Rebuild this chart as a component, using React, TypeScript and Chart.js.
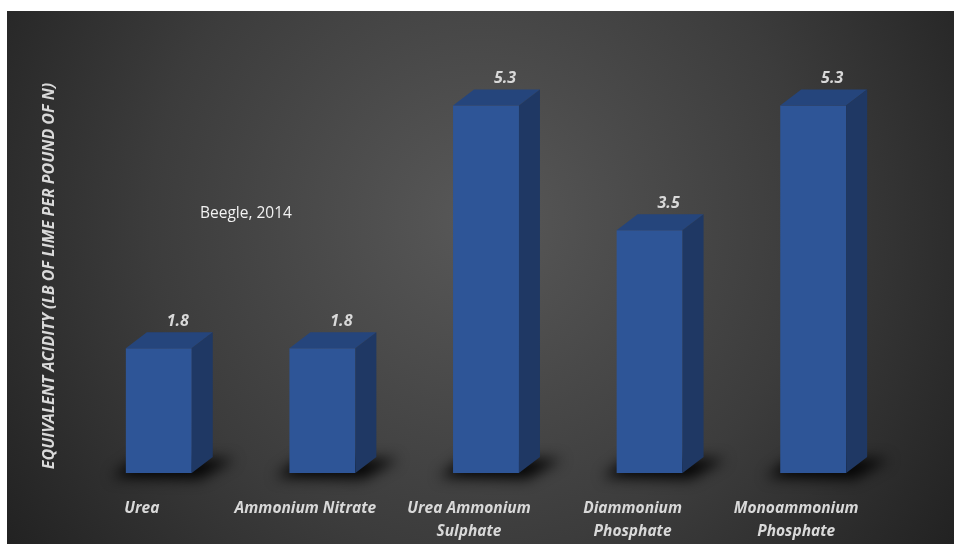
import React, { useEffect, useRef } from "react";
import { Chart, registerables } from "chart.js";

Chart.register(...registerables);

const categories: string[][] = [
  ["Urea"],
  ["Ammonium Nitrate"],
  ["Urea Ammonium", "Sulphate"],
  ["Diammonium", "Phosphate"],
  ["Monoammonium", "Phosphate"],
];
const values: number[] = [1.8, 1.8, 5.3, 3.5, 5.3];
const valueLabels: string[] = ["1.8", "1.8", "5.3", "3.5", "5.3"];
const yAxisTitle = "EQUIVALENT ACIDITY (LB OF LIME PER POUND OF N)";
const sourceNote = "Beegle, 2014";

const FONT = "'Open Sans', 'Liberation Sans', sans-serif";
const DX = 21;
const DY = 16;

const bgPlugin = {
  id: "bg",
  beforeDraw(chart: any) {
    const ctx = chart.ctx;
    const W = chart.width;
    const H = chart.height;
    ctx.save();
    ctx.fillStyle = "#ffffff";
    ctx.fillRect(0, 0, W, H);
    const g = ctx.createRadialGradient(480, 220, 0, 480, 220, 600);
    g.addColorStop(0, "#585858");
    g.addColorStop(0.55, "#3c3c3c");
    g.addColorStop(1, "#1f1f1f");
    ctx.fillStyle = g;
    ctx.fillRect(7, 11, 947, H - 11);
    ctx.restore();
  },
};

const bar3dPlugin = {
  id: "bar3d",
  beforeDatasetsDraw(chart: any) {
    const ctx = chart.ctx;
    const meta = chart.getDatasetMeta(0);
    ctx.save();
    meta.data.forEach((bar: any) => {
      const w = bar.width;
      const left = bar.x - w / 2;
      const right = bar.x + w / 2;
      const base = bar.base;
      ctx.save();
      ctx.shadowColor = "rgba(0,0,0,0.95)";
      ctx.shadowBlur = 14;
      ctx.shadowOffsetX = 0;
      ctx.shadowOffsetY = 2000;
      ctx.fillStyle = "#000";
      ctx.beginPath();
      ctx.moveTo(left - 14, base + 4 - 2000);
      ctx.lineTo(right + 8, base + 6 - 2000);
      ctx.lineTo(right + DX + 22, base - DY + 2 - 2000);
      ctx.lineTo(left + 10, base - DY + 2 - 2000);
      ctx.closePath();
      ctx.fill();
      ctx.restore();
    });
    ctx.restore();
  },
  afterDatasetsDraw(chart: any) {
    const ctx = chart.ctx;
    const meta = chart.getDatasetMeta(0);
    ctx.save();
    meta.data.forEach((bar: any, i: number) => {
      const w = bar.width;
      const left = bar.x - w / 2;
      const right = bar.x + w / 2;
      const top = bar.y;
      const base = bar.base;
      // top face
      ctx.fillStyle = "#25457c";
      ctx.beginPath();
      ctx.moveTo(left, top);
      ctx.lineTo(left + DX, top - DY);
      ctx.lineTo(right + DX, top - DY);
      ctx.lineTo(right, top);
      ctx.closePath();
      ctx.fill();
      // side face
      ctx.fillStyle = "#1f3864";
      ctx.beginPath();
      ctx.moveTo(right, top);
      ctx.lineTo(right + DX, top - DY);
      ctx.lineTo(right + DX, base - DY);
      ctx.lineTo(right, base);
      ctx.closePath();
      ctx.fill();
      // value label
      ctx.fillStyle = "#d9d9d9";
      ctx.font = `italic bold 16px ${FONT}`;
      ctx.textAlign = "center";
      ctx.textBaseline = "middle";
      ctx.fillText(valueLabels[i], bar.x + 19, top - 27);
    });

    // category labels
    const xs = chart.scales.x;
    ctx.fillStyle = "#d9d9d9";
    ctx.font = `italic bold 15.5px ${FONT}`;
    ctx.textAlign = "center";
    ctx.textBaseline = "middle";
    categories.forEach((lines, i) => {
      const x = xs.getPixelForValue(i) - 17;
      lines.forEach((ln, j) => {
        ctx.fillText(ln, x, 509 + j * 23);
      });
    });

    // y axis title
    ctx.save();
    ctx.translate(49, 276);
    ctx.rotate(-Math.PI / 2);
    ctx.font = `italic bold 16px ${FONT}`;
    ctx.fillStyle = "#d9d9d9";
    ctx.fillText(yAxisTitle, 0, 0);
    ctx.restore();

    // source note
    ctx.font = `15.5px ${FONT}`;
    ctx.fillStyle = "#f2f2f2";
    ctx.textAlign = "left";
    ctx.fillText(sourceNote, 200, 214);
    ctx.restore();
  },
};

export default function App() {
  const ref = useRef<HTMLCanvasElement>(null);
  useEffect(() => {
    if (!ref.current) return;
    const chart = new Chart(ref.current, {
      type: "bar",
      data: {
        labels: categories.map((c) => c.join(" ")),
        datasets: [
          {
            data: values,
            backgroundColor: "#2e5597",
            borderWidth: 0,
            barPercentage: 0.403,
            categoryPercentage: 1,
          },
        ],
      },
      options: {
        responsive: false,
        animation: false,
        layout: { padding: { left: 77, right: 60, top: 57, bottom: 71 } },
        plugins: {
          legend: { display: false },
          tooltip: { enabled: false },
          title: { display: false },
        },
        scales: {
          x: { display: false },
          y: { display: false, min: 0, max: 6 },
        },
      },
      plugins: [bgPlugin, bar3dPlugin],
    });
    return () => chart.destroy();
  }, []);
  return (
    <div style={{ position: "absolute", left: 0, top: 0, width: 955, height: 544 }}>
      <canvas ref={ref} width={955} height={544} style={{ display: "block" }} />
    </div>
  );
}
